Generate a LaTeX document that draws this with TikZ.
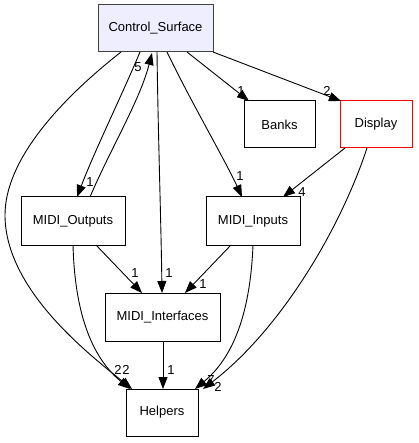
\documentclass[tikz,border=0pt]{standalone}
\usepackage{fontspec}
\setmainfont{Liberation Sans}
\usetikzlibrary{arrows.meta}
\definecolor{csfill}{HTML}{EEEEFF}
\definecolor{csdraw}{HTML}{404040}
\tikzset{
  box/.style={draw=black, fill=white, line width=1pt, inner sep=0pt, font=\fontsize{13}{15}\selectfont},
  edge/.style={line width=0.9pt, -{Triangle[length=12pt,width=9pt]}},
  lbl/.style={inner sep=0pt, font=\fontsize{13}{15}\selectfont},
}
\begin{document}
\begin{tikzpicture}[x=1pt,y=-1pt]
\useasboundingbox (0,0) rectangle (418,443);
% nodes
\node[box, fill=csfill, draw=csdraw, minimum width=115pt, minimum height=47pt] (cs) at (155.5,28.5) {Control\_Surface};
\node[box, minimum width=71pt, minimum height=47pt] (banks) at (279.5,124.5) {Banks};
\node[box, draw=red, minimum width=72pt, minimum height=47pt] (disp) at (376,124.5) {Display};
\node[box, minimum width=104pt, minimum height=48pt] (mo) at (73,221) {MIDI\_Outputs};
\node[box, minimum width=94pt, minimum height=48pt] (mi) at (253,221) {MIDI\_Inputs};
\node[box, minimum width=115pt, minimum height=48pt] (mif) at (162.5,317) {MIDI\_Interfaces};
\node[box, minimum width=72pt, minimum height=47pt] (help) at (162,412.5) {Helpers};
% anchor coordinates
\coordinate (csA) at (121,52);
\coordinate (csB) at (140,52);
\coordinate (csC) at (152,53);
\coordinate (csD) at (157,52);
\coordinate (csE) at (167,52);
\coordinate (csF) at (187,52);
\coordinate (csG) at (213,52);
\coordinate (bT) at (249,101);
\coordinate (dT) at (341,101);
\coordinate (dA) at (345,148);
\coordinate (dB) at (367,148);
\coordinate (moT1) at (77,197);
\coordinate (moT2) at (90,197);
\coordinate (moB1) at (73,245);
\coordinate (moB2) at (96,245);
\coordinate (miT1) at (242,197);
\coordinate (miT2) at (283,197);
\coordinate (miB1) at (231,245);
\coordinate (miB2) at (253,245);
\coordinate (mifT1) at (142,293);
\coordinate (mifT2) at (162,293);
\coordinate (mifT3) at (185,293);
\coordinate (mifB) at (163,341);
\coordinate (hT1) at (130,389);
\coordinate (hT2) at (132,389);
\coordinate (hT3) at (163,389);
\coordinate (hT4) at (195,389);
\coordinate (hT5) at (203,389);
% edges
\draw[edge] (csF) -- (bT);
\draw[edge] (csG) -- (dT);
\draw[edge] (csB) .. controls (122,95) and (95,150) .. (moT1);
\draw[edge] (moT2) .. controls (110,150) and (140,100) .. (csC);
\draw[edge] (csD) .. controls (158,130) and (161,220) .. (mifT2);
\draw[edge] (csE) .. controls (190,100) and (225,160) .. (miT1);
\draw[edge] (csA) .. controls (60,100) and (5,160) .. (5,215) .. controls (5,290) and (90,355) .. (hT2);
\draw[edge] (moB1) .. controls (75,320) and (95,360) .. (hT1);
\draw[edge] (moB2) -- (mifT1);
\draw[edge] (miB1) -- (mifT3);
\draw[edge] (dA) -- (miT2);
\draw[edge] (miB2) .. controls (250,320) and (230,360) .. (hT4);
\draw[edge] (dB) .. controls (340,230) and (280,330) .. (hT5);
\draw[edge] (mifB) -- (hT3);
% labels
\node[lbl] (l1) at (241,91) {1};
\node[lbl] (l2) at (327,91) {2};
\node[lbl] (l3) at (138,67) {5};
\node[lbl] (l4) at (90,182) {1};
\node[lbl] (l5) at (240,176) {1};
\node[lbl] (l6) at (302,192) {4};
\node[lbl] (l7) at (135,273) {1};
\node[lbl] (l8) at (169,273) {1};
\node[lbl] (l9) at (203,284) {1};
\node[lbl] (l10) at (118,370) {2};
\node[lbl] (l11) at (126,370) {2};
\node[lbl] (l12) at (171,370) {1};
\node[lbl] (l13) at (211,380) {7};
\node[lbl] (l14) at (218,387) {2};
\end{tikzpicture}
\end{document}
